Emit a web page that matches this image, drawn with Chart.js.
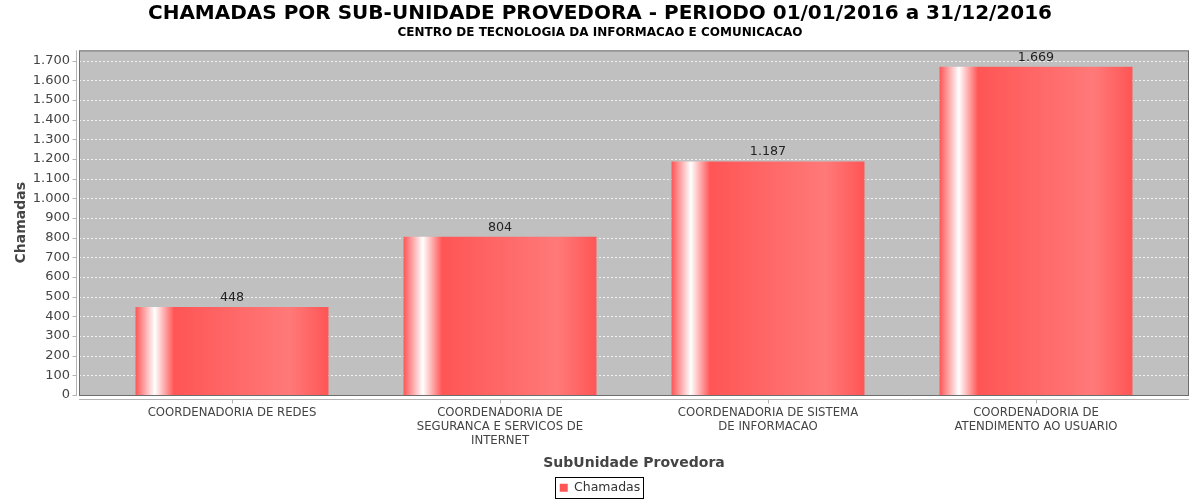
<!DOCTYPE html>
<html>
<head>
<meta charset="utf-8">
<title>Chamadas por sub-unidade provedora</title>
<script src="https://cdn.jsdelivr.net/npm/chart.js@4/dist/chart.umd.min.js"></script>
<style>
  html, body { margin: 0; padding: 0; background: #fff; }
  #wrap { width: 1200px; height: 500px; }
</style>
</head>
<body>
<div id="wrap"><canvas id="chart" width="1200" height="500"></canvas></div>
<script>
// data
const categories = [
  ['COORDENADORIA DE REDES'],
  ['COORDENADORIA DE', 'SEGURANCA E SERVICOS DE', 'INTERNET'],
  ['COORDENADORIA DE SISTEMA', 'DE INFORMACAO'],
  ['COORDENADORIA DE', 'ATENDIMENTO AO USUARIO'],
];
const chamadas = [448, 804, 1187, 1669];
const seriesName = 'Chamadas';
const titleText = 'CHAMADAS POR SUB-UNIDADE PROVEDORA - PERIODO 01/01/2016 a 31/12/2016';
const subtitleText = 'CENTRO DE TECNOLOGIA DA INFORMACAO E COMUNICACAO';
const yStep = 100;
const yMax = 1752; // 1669 plus the usual 5% top margin

const FONT = "'DejaVu Sans', 'Liberation Sans', sans-serif";
const RED = '#ff5555';
const RED_LIGHT = '#ff7979';
const BAR_PCT = 0.72;
const PLOT_EXTRA = 19; // grey area sticks out past the category band

// 1234 -> 1.234
function fmt(v) {
  return String(v).replace(/\B(?=(\d{3})+(?!\d))/g, '.');
}

// jfreechart-like gradient painter across each bar
function barFill(ctx) {
  const chart = ctx.chart;
  const xs = chart.scales && chart.scales.x;
  if (ctx.type !== 'data' || !chart.chartArea || !xs) return RED;
  const cx = xs.getPixelForValue(ctx.dataIndex);
  const w = xs.width / categories.length * BAR_PCT;
  const g = chart.ctx.createLinearGradient(cx - w / 2, 0, cx + w / 2, 0);
  g.addColorStop(0, RED);
  g.addColorStop(0.1, '#ffffff');
  g.addColorStop(0.2, RED);
  g.addColorStop(0.8, RED_LIGHT);
  g.addColorStop(1, RED);
  return g;
}

const plotBox = {
  id: 'plotBox',
  beforeDatasetsDraw(chart) {
    const { ctx, chartArea: a, scales: { x, y } } = chart;
    const left = a.left - PLOT_EXTRA, right = a.right + PLOT_EXTRA;
    ctx.save();
    ctx.fillStyle = '#c0c0c0';
    ctx.fillRect(left, a.top, right - left, a.bottom - a.top);

    // dashed grid
    ctx.strokeStyle = 'rgba(255,255,255,0.8)';
    ctx.lineWidth = 1;
    ctx.setLineDash([2, 2]);
    y.ticks.forEach(t => {
      if (t.value <= 0) return;
      const py = Math.round(y.getPixelForValue(t.value)) + 0.5;
      ctx.beginPath();
      ctx.moveTo(left, py);
      ctx.lineTo(right, py);
      ctx.stroke();
    });
    ctx.setLineDash([]);

    // axis lines and tick marks
    ctx.strokeStyle = '#b4b4b4';
    const ax = left - 2.5;
    ctx.beginPath();
    ctx.moveTo(ax, a.top);
    ctx.lineTo(ax, a.bottom + 1);
    y.ticks.forEach(t => {
      const py = Math.round(y.getPixelForValue(t.value)) + 0.5;
      ctx.moveTo(ax - 4, py);
      ctx.lineTo(ax, py);
    });
    const ay = a.bottom + 4.5;
    ctx.moveTo(left, ay);
    ctx.lineTo(right, ay);
    categories.forEach((c, i) => {
      const px = Math.round(x.getPixelForValue(i)) + 0.5;
      ctx.moveTo(px, ay);
      ctx.lineTo(px, ay + 4);
    });
    ctx.stroke();
    ctx.restore();
  },
  afterDatasetsDraw(chart) {
    const { ctx, chartArea: a } = chart;
    const left = a.left - PLOT_EXTRA, right = a.right + PLOT_EXTRA;
    ctx.save();
    ctx.strokeStyle = '#6e6e6e';
    ctx.lineWidth = 1;
    ctx.strokeRect(left + 0.5, a.top + 0.5, right - left - 1, a.bottom - a.top);

    // value labels over the bars
    ctx.fillStyle = '#222';
    ctx.font = '12.7px ' + FONT;
    ctx.textAlign = 'center';
    ctx.textBaseline = 'bottom';
    chart.getDatasetMeta(0).data.forEach((el, i) => {
      ctx.fillText(fmt(chamadas[i]), el.x, el.y - 3);
    });
    ctx.restore();
  },
  afterDraw(chart) {
    // box round the legend item
    const lg = chart.legend;
    if (!lg || !lg.legendHitBoxes.length) return;
    const hb = lg.legendHitBoxes[0];
    const mid = hb.top + hb.height / 2;
    const ctx = chart.ctx;
    ctx.save();
    ctx.strokeStyle = '#000';
    ctx.lineWidth = 1;
    ctx.strokeRect(Math.round(hb.left - 5) + 0.5, Math.round(mid - 11) + 0.5,
      Math.round(hb.width + 7), 21);
    ctx.restore();
  }
};

new Chart(document.getElementById('chart'), {
  type: 'bar',
  data: {
    labels: categories,
    datasets: [{
      label: seriesName,
      data: chamadas,
      backgroundColor: barFill,
      borderWidth: 0,
      categoryPercentage: 1,
      barPercentage: BAR_PCT,
    }]
  },
  options: {
    responsive: false,
    devicePixelRatio: 1,
    animation: false,
    events: [],
    // the legend keeps 10px of its own below the item, pull it back down
    layout: { padding: { top: 0, left: 0, right: 0, bottom: -4 } },
    plugins: {
      title: {
        display: true,
        text: titleText,
        color: '#000',
        font: { family: FONT, size: 20, weight: 'bold', lineHeight: 1.2 },
        padding: { top: 2, bottom: 0 },
      },
      subtitle: {
        display: true,
        text: subtitleText,
        color: '#000',
        font: { family: FONT, size: 12, weight: 'bold', lineHeight: 1.2 },
        padding: { top: 0, bottom: 10 },
      },
      legend: {
        position: 'bottom',
        labels: {
          boxWidth: 8,
          boxHeight: 8,
          padding: 2,
          color: '#333',
          font: { family: FONT, size: 12.5 },
        }
      },
      tooltip: { enabled: false },
    },
    scales: {
      x: {
        grid: { display: false, drawTicks: false },
        border: { display: false },
        ticks: {
          color: '#444',
          font: { family: FONT, size: 11.7, lineHeight: '14px' },
          padding: 11,
          maxRotation: 0,
          autoSkip: false,
        },
        title: {
          display: true,
          text: 'SubUnidade Provedora',
          color: '#444',
          font: { family: FONT, size: 14, weight: 'bold', lineHeight: 1.2 },
          padding: { top: 0, bottom: 8 },
        },
        afterFit(s) { s.height = 84.5; },
      },
      y: {
        min: 0,
        max: yMax,
        grid: { display: false, drawTicks: false },
        border: { display: false },
        ticks: {
          color: '#444',
          font: { family: FONT, size: 13 },
          padding: 28,
          callback: v => fmt(v),
        },
        afterBuildTicks(s) {
          const t = [];
          for (let v = 0; v <= s.max; v += yStep) t.push({ value: v });
          s.ticks = t;
        },
        title: {
          display: true,
          text: 'Chamadas',
          color: '#444',
          font: { family: FONT, size: 14, weight: 'bold', lineHeight: 1.2 },
          padding: { top: 13, bottom: 0 },
        },
        afterFit(s) { s.width = 98; },
      },
      // empty axis on the right, only to keep the plot band clear of the edge
      yPad: {
        position: 'right',
        display: true,
        min: 0,
        max: yMax,
        grid: { display: false, drawTicks: false },
        border: { display: false },
        ticks: { display: false },
        afterFit(s) { s.width = 30; },
      }
    }
  },
  plugins: [plotBox]
});
</script>
</body>
</html>
